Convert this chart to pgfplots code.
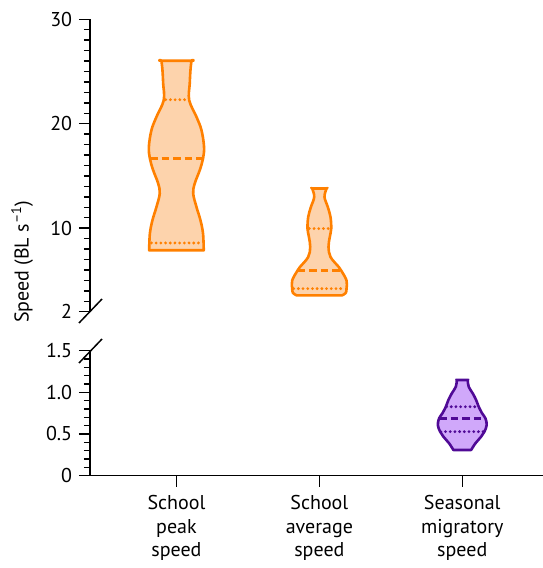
\documentclass[border=0pt]{standalone}
\usepackage{pgfplots}
\pgfplotsset{compat=1.18}
\usepackage{fontspec}
\setmainfont{PT Sans}
\definecolor{orl}{RGB}{255,128,0}
\definecolor{orf}{RGB}{253,211,172}
\definecolor{pul}{RGB}{80,10,150}
\definecolor{puf}{RGB}{208,168,250}
\begin{document}
\fontsize{20}{23.5}\selectfont
\begin{tikzpicture}[x=1pt,y=1pt]
\useasboundingbox (0,0) rectangle (543,568);
\pgfplotsset{
 base/.style={scale only axis, width=453pt, xmin=-0.605, xmax=2.565, clip=false,
   tick label style={font=\fontsize{20}{23.5}\selectfont},
   /pgf/number format/assume math mode=true},
 tk/.style={tick align=outside, major tick length=11pt, minor tick length=6pt,
   every tick/.style={black, line width=1.5pt},
   axis line style={black, line width=1.5pt, -}},
 vio/.style={line width=2.6pt, line join=round, smooth, tension=0.6},
 q/.style={line width=3.1pt, line cap=round, dash pattern=on 0pt off 4.7pt},
 m/.style={line width=2.6pt, dash pattern=on 7.5pt off 4pt},
}
\begin{axis}[base, at={(90pt,256.3pt)}, anchor=south west, height=292.4pt,
  ymin=2, ymax=30, axis y line=left, axis x line=none, tk,
  ytick={2,10,20,30}, yticklabels={2,10,20,30},
  minor ytick={3,4,5,6,7,8,9,11,12,13,14,15,16,17,18,19,21,22,23,24,25,26,27,28,29}]
% School peak speed
\addplot[vio, draw=orl, fill=orf] coordinates {
 (0.191,7.88) (0.186,9.48) (0.168,10.76) (0.140,12.03) (0.117,13.32) (0.128,14.28)
 (0.163,15.55) (0.186,16.67) (0.193,17.79) (0.175,19.39) (0.140,20.66) (0.089,22.26)
 (0.093,23.86) (0.098,25.14) (0.105,26.03) (0.105,26.03)
 (-0.105,26.03) (-0.105,26.03) (-0.098,25.14) (-0.093,23.86) (-0.089,22.26) (-0.140,20.66)
 (-0.175,19.39) (-0.193,17.79) (-0.186,16.67) (-0.163,15.55) (-0.128,14.28) (-0.117,13.32)
 (-0.140,12.03) (-0.168,10.76) (-0.186,9.48) (-0.191,7.88)
} -- cycle;
\addplot[q, draw=orl] coordinates {(-0.075,22.3) (0.075,22.3)};
\addplot[m, draw=orl] coordinates {(-0.185,16.67) (0.185,16.67)};
\addplot[q, draw=orl] coordinates {(-0.175,8.58) (0.175,8.58)};
% School average speed
\addplot[vio, draw=orl, fill=orf] coordinates {
 (1.160,3.57) (1.185,3.80) (1.190,4.21) (1.190,5.00) (1.152,5.96) (1.136,6.28)
 (1.078,7.24) (1.064,8.20) (1.073,9.16) (1.083,9.96) (1.078,11.07) (1.059,12.03)
 (1.036,12.99) (1.050,13.80) (1.050,13.80)
 (0.950,13.80) (0.950,13.80) (0.964,12.99) (0.941,12.03) (0.922,11.07) (0.917,9.96)
 (0.927,9.16) (0.936,8.20) (0.922,7.24) (0.864,6.28) (0.848,5.96) (0.810,5.00)
 (0.810,4.21) (0.815,3.80) (0.840,3.57)
} -- cycle;
\addplot[q, draw=orl] coordinates {(0.93,9.96) (1.07,9.96)};
\addplot[m, draw=orl] coordinates {(0.85,5.96) (1.15,5.96)};
\addplot[q, draw=orl] coordinates {(0.82,4.21) (1.18,4.21)};
\end{axis}
\begin{axis}[base, at={(90pt,92.3pt)}, anchor=south west, height=125.1pt,
  ymin=0, ymax=1.5, axis lines=left, tk,
  ytick={0,0.5,1,1.5}, yticklabels={0,0.5,1.0,1.5},
  minor ytick={0.1,0.2,0.3,0.4,0.6,0.7,0.8,0.9,1.1,1.2,1.3,1.4},
  xtick={0,1,2},
  xticklabels={{School\\peak\\speed},{School\\average\\speed},{Seasonal\\migratory\\speed}},
  xticklabel style={align=center, yshift=-2pt}]
% Seasonal migratory speed
\addplot[vio, draw=pul, fill=puf] coordinates {
 (2.062,0.308) (2.092,0.388) (2.132,0.468) (2.155,0.528) (2.171,0.608) (2.162,0.688)
 (2.139,0.748) (2.115,0.827) (2.097,0.908) (2.073,0.988) (2.045,1.067) (2.038,1.147) (2.038,1.147)
 (1.962,1.147) (1.962,1.147) (1.955,1.067) (1.927,0.988) (1.903,0.908) (1.885,0.827)
 (1.861,0.748) (1.838,0.688) (1.829,0.608) (1.845,0.528) (1.868,0.468) (1.908,0.388)
 (1.938,0.308)
} -- cycle;
\addplot[q, draw=pul] coordinates {(1.89,0.827) (2.11,0.827)};
\addplot[m, draw=pul] coordinates {(1.84,0.688) (2.16,0.688)};
\addplot[q, draw=pul] coordinates {(1.85,0.528) (2.15,0.528)};
\end{axis}
\draw[line width=1.5pt] (79,245) -- (102,269);
\draw[line width=1.5pt] (79,205) -- (102,229);
\node[rotate=90, font=\fontsize{20}{23.5}\selectfont] at (22,306) {Speed (BL s\textsuperscript{–1})};
\end{tikzpicture}
\end{document}
